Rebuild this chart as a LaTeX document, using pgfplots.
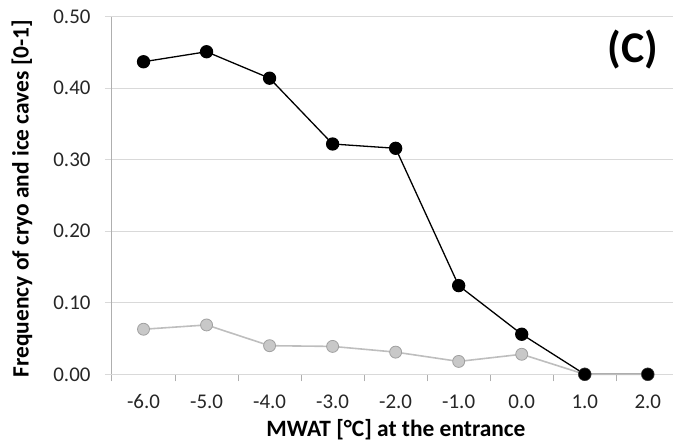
\documentclass[border=0pt]{standalone}
\usepackage{pgfplots}
\pgfplotsset{compat=1.18}
\usepackage{fontspec}
\setmainfont{Carlito}
\definecolor{gridc}{RGB}{217,217,217}
\definecolor{axc}{RGB}{175,175,175}
\definecolor{gfill}{RGB}{200,200,200}
\definecolor{gedge}{RGB}{160,160,160}
\definecolor{gline}{RGB}{190,190,190}
\begin{document}
\begin{tikzpicture}
\useasboundingbox (-112bp,-67.7bp) rectangle (561bp,374.3bp);
\begin{axis}[
  at={(0,0)}, anchor=south west,
  scale only axis, width=561bp, height=357.6bp,
  xmin=-6.5, xmax=2.4, ymin=0, ymax=0.5,
  axis x line*=bottom, axis y line*=left,
  x axis line style={draw=gridc, line width=1bp},
  y axis line style={draw=axc, line width=1bp},
  xtick={-6,...,2},
  xticklabels={-6.0,-5.0,-4.0,-3.0,-2.0,-1.0,0.0,1.0,2.0},
  major x tick style={draw=none},
  minor xtick={-6.5,-5.5,...,1.5},
  minor x tick style={draw=axc, line width=1bp},
  minor tick length=7bp,
  major tick length=7bp,
  ytick={0,0.1,...,0.5},
  y tick style={draw=gridc, line width=1bp},
  tick align=outside,
  ymajorgrids,
  major grid style={draw=gridc, line width=1bp},
  /pgf/number format/assume math mode=true,
  yticklabel style={/pgf/number format/fixed, /pgf/number format/fixed zerofill, /pgf/number format/precision=2, xshift=-11bp},
  scaled y ticks=false,
  tick label style={font=\fontsize{21}{25}\selectfont, text=black!85},
  xticklabel style={yshift=-10bp},
  xlabel={\textbf{MWAT [°C] at the entrance}},
  ylabel={\textbf{Frequency of cryo and ice caves [0-1]}},
  every axis x label/.style={at={(axis description cs:0.5,0)}, anchor=center, yshift=-55bp, xshift=3.5bp, font=\fontsize{23.5}{27}\selectfont},
  every axis y label/.style={at={(axis description cs:0,0.5)}, anchor=center, xshift=-90bp, yshift=-3bp, rotate=90, font=\fontsize{23.5}{27}\selectfont},
  clip=false,
]
\addplot[black, line width=1.3bp, mark=*, mark size=6bp, mark options={fill=black, draw=black}]
  coordinates {(-6,0.437) (-5,0.451) (-4,0.414) (-3,0.322) (-2,0.316) (-1,0.124) (0,0.056) (1,0) (2,0)};
\addplot[gline, line width=1.6bp, mark=*, mark size=6bp, mark options={fill=gfill, draw=gedge, line width=0.8bp}]
  coordinates {(-6,0.063) (-5,0.069) (-4,0.040) (-3,0.039) (-2,0.031) (-1,0.018) (0,0.028) (1,0) (2,0)};
\addplot[only marks, mark=*, mark size=6bp, mark options={fill=black, draw=black}]
  coordinates {(1,0) (2,0)};
\node[font=\bfseries\fontsize{44}{48}\selectfont, anchor=center] at (rel axis cs:0.929,0.907) {(C)};
\end{axis}
\end{tikzpicture}
\end{document}
